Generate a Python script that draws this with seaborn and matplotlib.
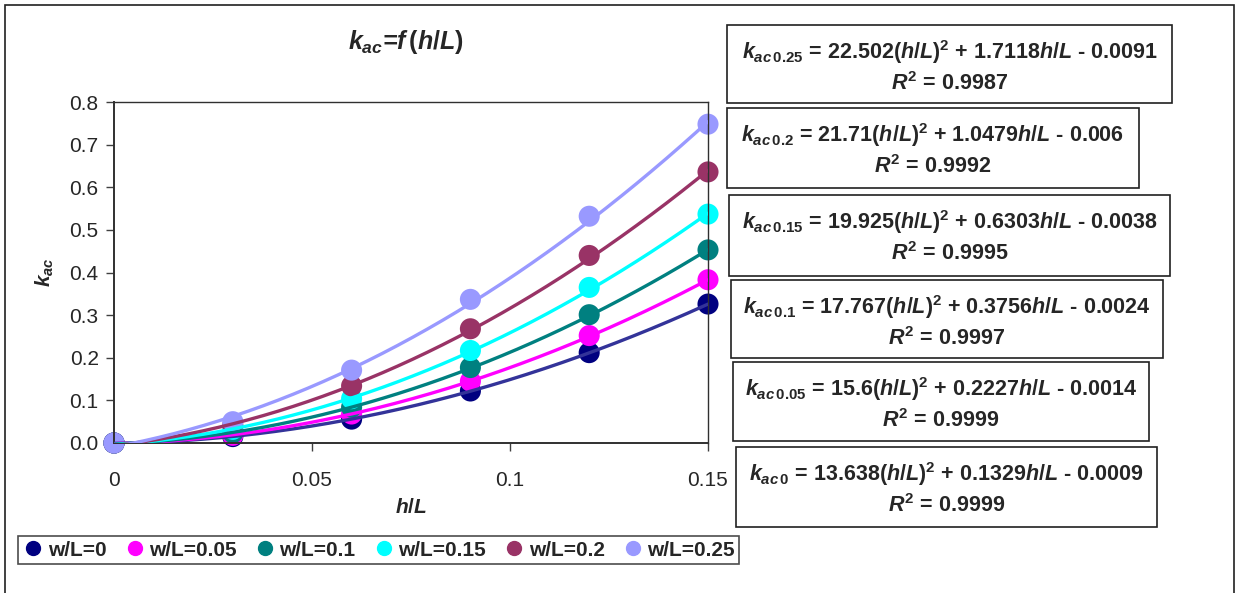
import numpy as np
import pandas as pd
import seaborn as sns
import matplotlib.pyplot as plt
from matplotlib.patches import Rectangle
from matplotlib.lines import Line2D

# data
h_L = [0, 0.03, 0.06, 0.09, 0.12, 0.15]
w_L = ['0', '0.05', '0.1', '0.15', '0.2', '0.25']
k_w0 = [0.0, 0.015, 0.056, 0.122, 0.212, 0.326]
k_w005 = [0.0, 0.018, 0.068, 0.145, 0.252, 0.383]
k_w01 = [0.0, 0.024, 0.084, 0.177, 0.301, 0.453]
k_w015 = [0.0, 0.032, 0.104, 0.217, 0.365, 0.537]
k_w02 = [0.0, 0.042, 0.134, 0.268, 0.440, 0.636]
k_w025 = [0.0, 0.050, 0.171, 0.337, 0.532, 0.748]
k_all = [k_w0, k_w005, k_w01, k_w015, k_w02, k_w025]

# trendline coefficients printed on the chart (a*x^2 + b*x + c)
coef_a = [13.638, 15.6, 17.767, 19.925, 21.71, 22.502]
coef_b = [0.1329, 0.2227, 0.3756, 0.6303, 1.0479, 1.7118]
coef_c = [-0.0009, -0.0014, -0.0024, -0.0038, -0.006, -0.0091]
coef_a_txt = ['13.638', '15.6', '17.767', '19.925', '21.71', '22.502']
coef_b_txt = ['0.1329', '0.2227', '0.3756', '0.6303', '1.0479', '1.7118']
coef_c_txt = ['0.0009', '0.0014', '0.0024', '0.0038', '0.006', '0.0091']
r2_txt = ['0.9999', '0.9999', '0.9997', '0.9995', '0.9992', '0.9987']

marker_colors = ['#000080', '#FF00FF', '#008080', '#00FFFF', '#993366', '#9999FF']
line_colors = ['#333399', '#FF00FF', '#008080', '#00FFFF', '#993366', '#9999FF']

sns.set_style('white')
plt.rcParams['font.family'] = ['Liberation Sans', 'DejaVu Sans']
plt.rcParams['mathtext.fontset'] = 'custom'
plt.rcParams['mathtext.rm'] = 'Liberation Sans:bold'
plt.rcParams['mathtext.it'] = 'Liberation Sans:italic:bold'
plt.rcParams['mathtext.bf'] = 'Liberation Sans:bold'
plt.rcParams['mathtext.sf'] = 'Liberation Sans:bold'

W, H = 1239, 593
fig = plt.figure(figsize=(W / 100, H / 100), dpi=100)
ax = fig.add_axes([114 / W, 1 - 443 / H, (708 - 114) / W, (443 - 102) / H])

pts = pd.DataFrame({
    'h/L': np.tile(h_L, len(w_L)),
    'kac': np.concatenate(k_all),
    'w/L': np.repeat(w_L, len(h_L)),
})
xs = np.linspace(0, 0.15, 200)
curves = pd.DataFrame({
    'h/L': np.tile(xs, len(w_L)),
    'kac': np.concatenate([a * xs ** 2 + b * xs + c for a, b, c in zip(coef_a, coef_b, coef_c)]),
    'w/L': np.repeat(w_L, len(xs)),
})

sns.scatterplot(data=pts, x='h/L', y='kac', hue='w/L', palette=marker_colors,
                s=230, linewidth=0, legend=False, ax=ax, zorder=2, clip_on=False)
sns.lineplot(data=curves, x='h/L', y='kac', hue='w/L', palette=line_colors,
             linewidth=2.4, legend=False, ax=ax, zorder=3, sort=False)

ax.set_xlim(0, 0.15)
ax.set_ylim(0, 0.8)
ax.set_xticks([0, 0.05, 0.1, 0.15])
ax.set_xticklabels(['0', '0.05', '0.1', '0.15'])
ax.set_yticks(np.arange(0, 0.81, 0.1))
ax.set_yticklabels([f'{v:.1f}' for v in np.arange(0, 0.81, 0.1)])
ax.tick_params(axis='both', labelsize=15, direction='out', length=6, width=1,
               color='#404040', left=True, bottom=True)
ax.tick_params(axis='x', pad=14)
ax.tick_params(axis='y', pad=5)
for sp in ax.spines.values():
    sp.set_color('#303030')
    sp.set_linewidth(1)
ax.spines['left'].set_linewidth(1.4)
ax.spines['bottom'].set_linewidth(1.4)

ax.set_xlabel('$h/L$', fontsize=15, labelpad=6)
ax.set_ylabel('$k_{ac}$', fontsize=15, labelpad=10)
fig.text(406 / W, 1 - 42 / H, '$k_{ac}$=$f\\,(h/L)$', fontsize=18, fontweight='bold',
         style='italic', ha='center', va='center')

# equation boxes (top to bottom: 0.25 ... 0)
boxes = [(727, 25, 1172, 103), (727, 108, 1139, 188), (729, 195, 1170, 276),
         (731, 280, 1163, 358), (733, 362, 1149, 441), (736, 447, 1157, 527)]
for i, (x0, y0, x1, y1) in enumerate(boxes):
    j = len(w_L) - 1 - i
    fig.patches.append(Rectangle((x0 / W, 1 - y1 / H), (x1 - x0) / W, (y1 - y0) / H,
                                 transform=fig.transFigure, facecolor='white',
                                 edgecolor='#202020', linewidth=1.2))
    xc = (x0 + x1) / 2 / W
    eq = (r'$k_{ac\,\mathrm{' + w_L[j] + r'}}$ = ' + coef_a_txt[j] + r'$(h/L)^\mathrm{2}$ + '
          + coef_b_txt[j] + r'$h/L$ - ' + coef_c_txt[j])
    fig.text(xc, 1 - (y0 + 27) / H, eq, fontsize=15.5, fontweight='bold', ha='center', va='center')
    fig.text(xc, 1 - (y0 + 59) / H, r'$R^\mathrm{2}$ = ' + r2_txt[j], fontsize=15.5,
             fontweight='bold', ha='center', va='center')

handles = [Line2D([], [], marker='o', linestyle='', markersize=10, color=c) for c in marker_colors]
labels = [f'w/L={w}' for w in w_L]
leg = fig.legend(handles, labels, loc='center', bbox_to_anchor=((22 + 735) / 2 / W, 1 - 550 / H),
                 ncol=6, frameon=True, fancybox=False, prop={'weight': 'bold', 'size': 15},
                 handletextpad=0.15, columnspacing=0.8, borderpad=0.2, handlelength=1.1)
leg.get_frame().set_edgecolor('#202020')
leg.get_frame().set_linewidth(1.2)

# outer chart border
fig.patches.append(Rectangle((5 / W, -0.05), (1234 - 5) / W, 1 - 5 / H + 0.05,
                             transform=fig.transFigure, facecolor='none',
                             edgecolor='#202020', linewidth=1.2))

fig.savefig('out.png', dpi=100)
